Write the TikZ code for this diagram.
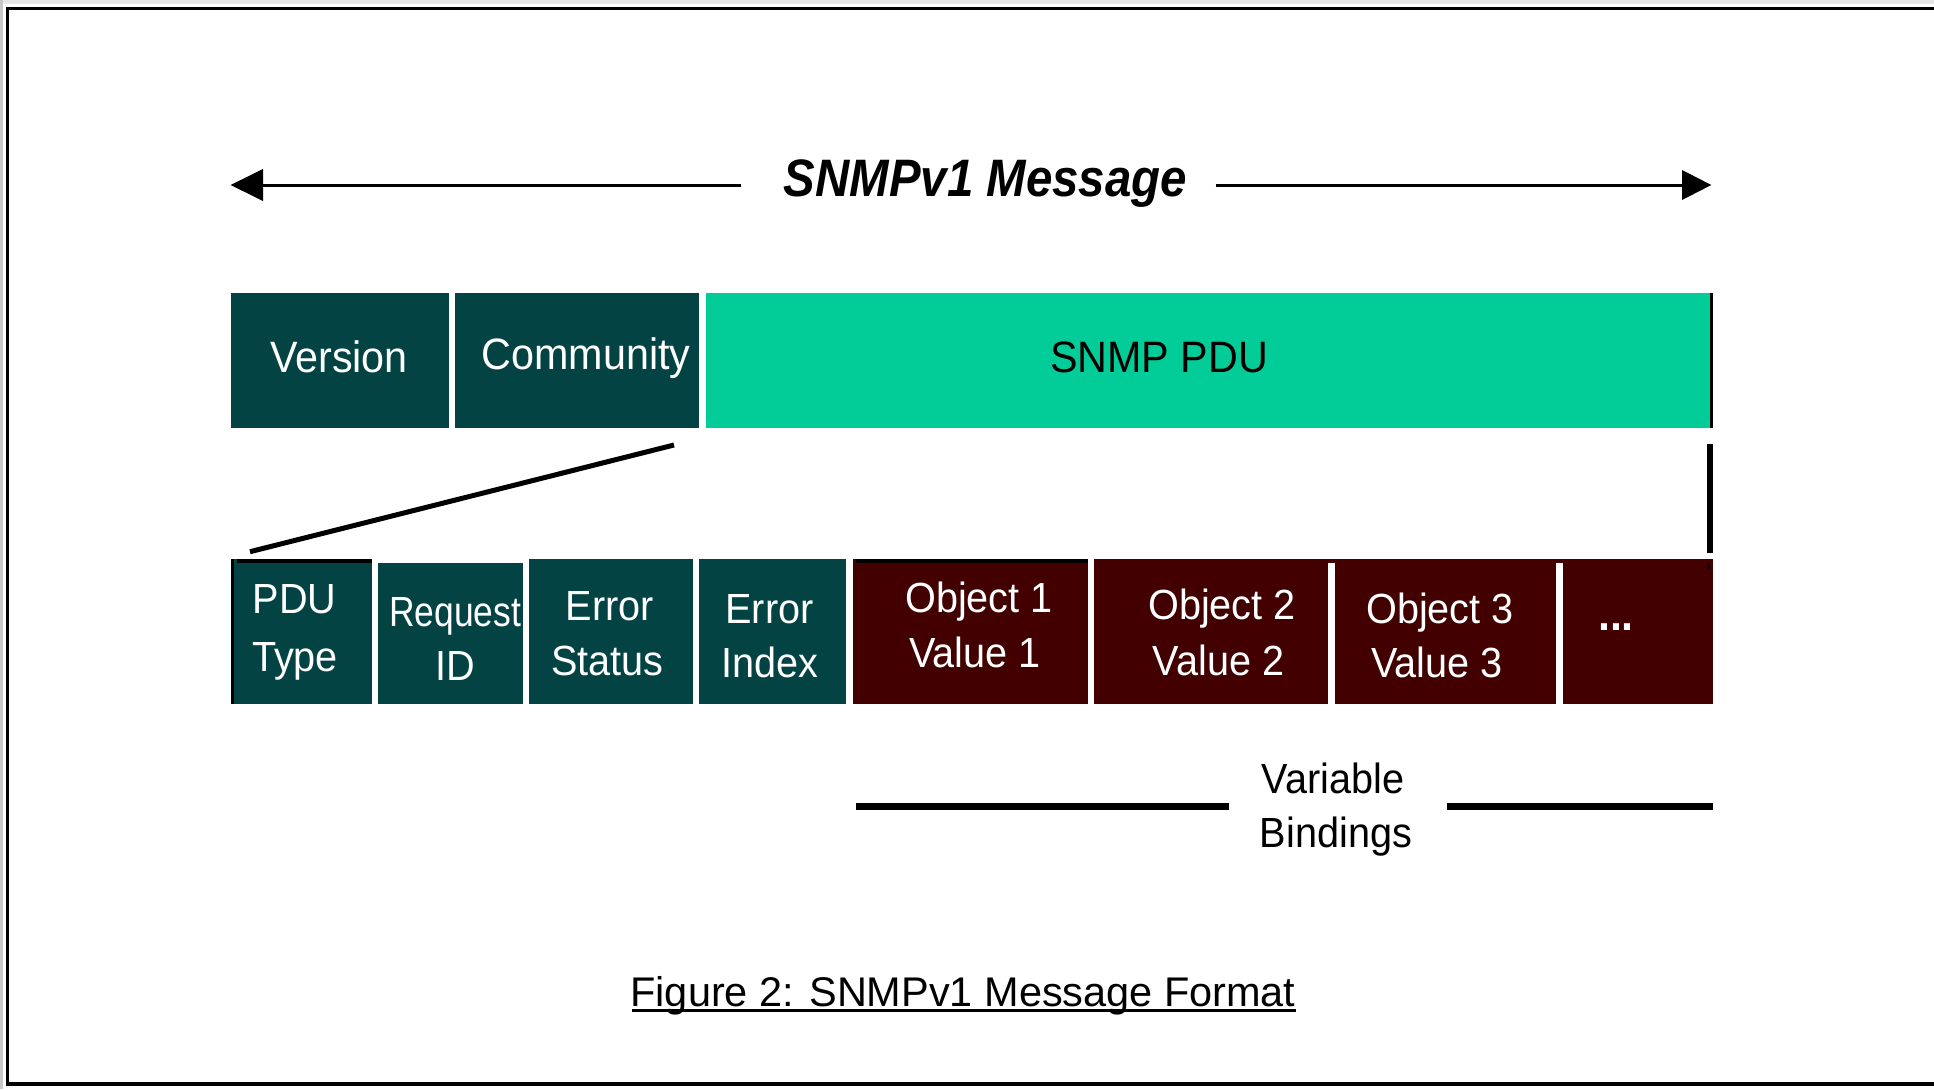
\documentclass[tikz,border=0pt]{standalone}
\usepackage{fontspec}
\usetikzlibrary{fit,calc}
\newfontfamily\pixfont[FakeStretch=0.94]{Liberation Sans}
\newfontfamily\pixnarrow[FakeStretch=0.84]{Liberation Sans}
\newfontfamily\capfont{Liberation Sans}
\newfontfamily\ttlfont[FakeStretch=0.9]{Liberation Sans}
\definecolor{tealbox}{RGB}{3,67,67}
\definecolor{greenbox}{RGB}{2,205,152}
\definecolor{maroonbox}{RGB}{66,0,0}
\tikzset{
  tealfill/.style={fill=tealbox, inner sep=0pt, draw=none},
  greenfill/.style={fill=greenbox, inner sep=0pt, draw=none},
  maroonfill/.style={fill=maroonbox, inner sep=0pt, draw=none},
  wtxt/.style={anchor=base, inner sep=0pt, text=white, font=\pixfont\fontsize{24}{28}\selectfont},
  wtxtbig/.style={anchor=base, inner sep=0pt, text=white, font=\pixfont\fontsize{25}{30}\selectfont},
  btxt/.style={anchor=base, inner sep=0pt, text=black, font=\pixfont\fontsize{24}{28}\selectfont},
  heavy/.style={line width=0.06cm, black},
}
\begin{document}
\begin{tikzpicture}[x=0.02cm,y=-0.02cm]
\useasboundingbox (0,0) rectangle (1934,1089);
% outer frame
\fill[white] (0,0) rectangle (1934,1089);
\fill[black!10] (0,0) rectangle (1934,4);
\fill[black!22] (0,0) rectangle (3,1089);
\fill[black] (6,7) rectangle (1934,10);
\fill[black] (6,7) rectangle (9,1086);
\fill[black] (6,1082) rectangle (1934,1086);

% title and arrows
\node[anchor=base, inner sep=0pt, font=\ttlfont\bfseries\itshape\fontsize{30}{36}\selectfont] (title) at (985.3,196.7) {SNMPv1 Message};
\coordinate (ltip) at (230.6,185);
\coordinate (lback) at (263,185);
\coordinate (lend) at (740.8,185);
\coordinate (rstart) at (1215.5,185);
\coordinate (rback) at (1682,185);
\coordinate (rtip) at (1711.3,185);
\draw[heavy] (lback) -- (lend);
\draw[heavy] (rstart) -- (rback);
\fill[black] (ltip) -- ($(lback)+(0,-16)$) -- ($(lback)+(0,16)$) -- cycle;
\fill[black] (rtip) -- ($(rback)+(0,-15)$) -- ($(rback)+(0,15)$) -- cycle;

% top row
\node[tealfill, fit={(230.6,293) (449,427.7)}] (version) {};
\node[tealfill, fit={(454.9,293) (699,427.7)}] (community) {};
\node[greenfill, fit={(706,293) (1710,427.7)}] (pdu) {};
\fill[black] (1710,293) rectangle (1713,427.7);
\node[wtxtbig] (versiont) at (339,372.7) {Version};
\node[wtxtbig] (communityt) at (586,369) {Community};
\node[btxt, font=\pixfont\fontsize{25}{30}\selectfont] (pdut) at (1159,372.7) {SNMP PDU};

% lower row
\node[tealfill, fit={(230.8,559) (372,703.7)}] (pdutype) {};
\fill[black] (236.7,559) rectangle (372,563);
\fill[black] (230.8,559) rectangle (234,703.7);
\node[tealfill, fit={(378,563.3) (523,703.7)}] (reqid) {};
\node[tealfill, fit={(529,559) (692.9,703.7)}] (errstat) {};
\node[tealfill, fit={(699,559) (846.4,703.7)}] (erridx) {};
\node[maroonfill, fit={(853,559) (1087.8,703.7)}] (obj1) {};
\fill[black] (855.7,559) rectangle (1087.8,563.3);
\node[maroonfill, fit={(1094.3,559) (1328,703.7)}] (obj2) {};
\node[maroonfill, fit={(1335,559) (1555.6,703.7)}] (obj3) {};
\node[maroonfill, fit={(1562.8,559) (1713,703.7)}] (more) {};
\fill[maroonbox] (1327,559) rectangle (1336,563.3);
\fill[maroonbox] (1554.6,559) rectangle (1563.8,563.3);
\fill[black] (1707,563.3) rectangle (1710,569.3);

\node[wtxt] (t1a) at (294.5,613.3) {PDU};
\node[wtxt] (t1b) at (295,671.7) {Type};
\node[wtxt, font=\pixnarrow\fontsize{24}{28}\selectfont] (t2a) at (455,626.7) {Request};
\node[wtxt] (t2b) at (455.5,680) {ID};
\node[wtxt] (t3a) at (609.6,620) {Error};
\node[wtxt] (t3b) at (607.5,675) {Status};
\node[wtxt] (t4a) at (769.5,623.3) {Error};
\node[wtxt] (t4b) at (769.5,677.7) {Index};
\node[wtxt] (t5a) at (979,612.7) {Object 1};
\node[wtxt] (t5b) at (975,667.3) {Value 1};
\node[wtxt] (t6a) at (1222,619.3) {Object 2};
\node[wtxt] (t6b) at (1218.5,675) {Value 2};
\node[wtxt] (t7a) at (1440,623.3) {Object 3};
\node[wtxt] (t7b) at (1437,677.3) {Value 3};
\node[wtxt, font=\pixfont\bfseries\fontsize{26}{30}\selectfont] (t8) at (1616,630) {...};

% expansion lines
\coordinate (dtop) at (674,445);
\coordinate (dbot) at (250,551.7);
\draw[line width=0.1cm] (dtop) -- (dbot);
\coordinate (vtop) at (1710,444);
\coordinate (vbot) at (1710,552.7);
\draw[line width=0.12cm] (vtop) -- (vbot);

% variable bindings
\node[btxt] (vb1) at (1333,793.3) {Variable};
\node[btxt] (vb2) at (1336,847.3) {Bindings};
\coordinate (bl1) at (855.7,806.7);
\coordinate (bl2) at (1228.8,806.7);
\coordinate (br1) at (1447,806.7);
\coordinate (br2) at (1712.5,806.7);
\draw[line width=0.14cm] (bl1) -- (bl2);
\draw[line width=0.14cm] (br1) -- (br2);

% caption
\node[anchor=base, inner sep=0pt, font=\capfont\fontsize{23.6}{28}\selectfont] (caption) at (963,1006) {Figure 2: SNMPv1 Message Format};
\draw[line width=0.05cm] (632,1010.5) -- (1296,1010.5);
\end{tikzpicture}
\end{document}
